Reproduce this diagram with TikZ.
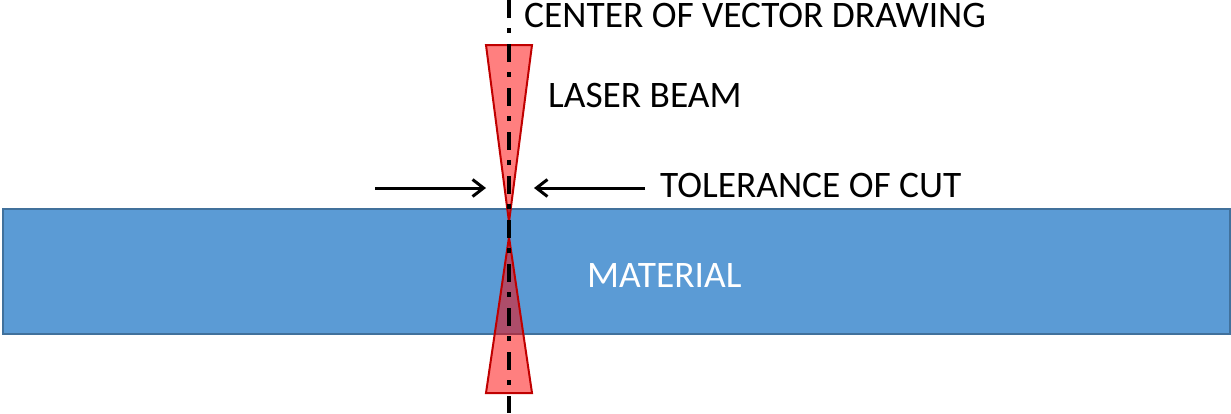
\documentclass[tikz,border=0pt]{standalone}
\usepackage{fontspec}
\setmainfont{Carlito}
\usetikzlibrary{arrows.meta}
\definecolor{matfill}{HTML}{5B9BD5}
\definecolor{matline}{HTML}{41719C}
\definecolor{beamline}{HTML}{C00000}
\tikzset{
  lbl/.style={anchor=base west,inner sep=0pt,font=\fontsize{37.4}{40}\selectfont},
  beam/.style={fill=red,fill opacity=0.5,draw=beamline,draw opacity=1,line width=2pt,line join=miter},
  tolarrow/.style={line width=3pt,-{Straight Barb[length=11pt,width=17pt,line width=3pt]}},
  centerline/.style={line width=3.8pt,dash pattern=on 18pt off 10pt on 5pt off 11pt}
}
\begin{document}
\begin{tikzpicture}[x=1pt,y=-1pt]
\useasboundingbox (0,0) rectangle (1231,413);
% material
\node[draw=matline,fill=matfill,line width=2pt,minimum width=1227pt,minimum height=125pt,inner sep=0pt,anchor=north west] (mat) at (2,208) {};
% beams
\coordinate (tl) at (486,45);
\coordinate (tr) at (532,45);
\coordinate (ta) at (509,222);
\coordinate (ba) at (509,237);
\coordinate (bl) at (486,393);
\coordinate (br) at (532,393);
\draw[beam] (tl) -- (tr) -- (ta) -- cycle;
\draw[beam] (ba) -- (br) -- (bl) -- cycle;
% center line
\coordinate (ctop) at (509,0);
\coordinate (cbot) at (509,413);
\draw[centerline] (ctop) -- (cbot);
% tolerance arrows
\coordinate (la) at (375,188);
\coordinate (lb) at (486,188);
\coordinate (ra) at (645,188);
\coordinate (rb) at (534,188);
\draw[tolarrow] (la) -- (lb);
\draw[tolarrow] (ra) -- (rb);
% labels
\node[lbl] (center) at (524,27) {CENTER OF VECTOR DRAWING};
\node[lbl] (laser) at (548,107) {LASER BEAM};
\node[lbl] (tol) at (660,197) {TOLERANCE OF CUT};
\node[lbl,text=white] (matl) at (587,287) {MATERIAL};
\end{tikzpicture}
\end{document}
